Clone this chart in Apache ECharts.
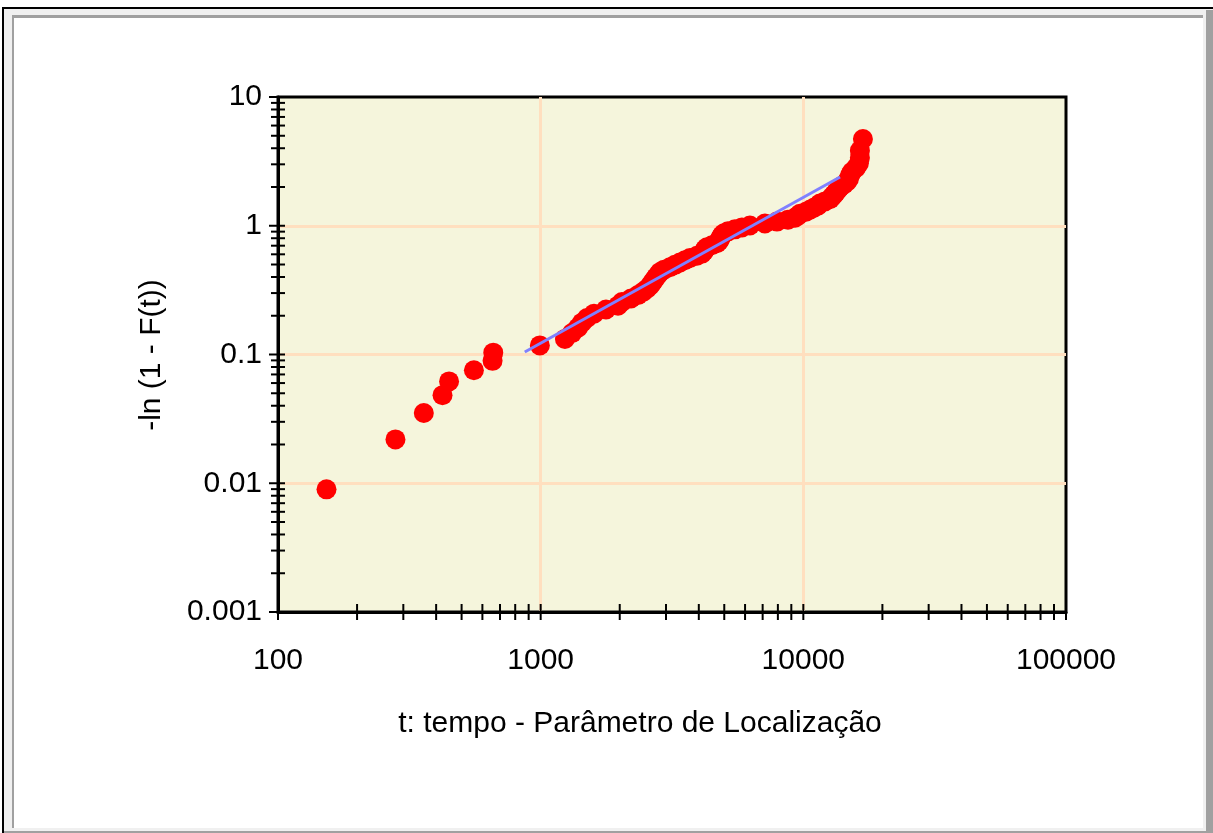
<!DOCTYPE html>
<html>
<head>
<meta charset="utf-8">
<script src="https://cdn.jsdelivr.net/npm/echarts@6/dist/echarts.min.js"></script>
<style>
html,body{margin:0;padding:0;background:#fff;}
#chart{width:1213px;height:833px;}
</style>
</head>
<body>
<div id="chart"></div>
<script>
// ---- data ----
const tValues = [153, 280, 359, 423, 448, 557, 656, 660, 993, 1237,
  1316, 1387, 1436, 1501, 1596, 1773, 1970, 2040, 2207, 2346,
  2452, 2540, 2607, 2653, 2700, 2748, 2797, 2846, 2948, 3107,
  3245, 3391, 3543, 3702, 3936, 4111, 4184, 4221, 4295, 4488,
  4690, 4772, 4814, 4856, 4898, 4985, 5164, 5490, 5839, 6261,
  7141, 7934, 8737, 9290, 9539, 9707, 10231, 10595, 10972, 11365,
  11566, 12083, 12627, 12850, 13077, 13308, 13543, 13783, 14274, 14656,
  14914, 15045, 15311, 15856, 16277, 16420, 16420, 16860];
const hValues = [0.00897, 0.0219, 0.0351, 0.0483, 0.0618, 0.0755, 0.0893, 0.1034, 0.1176, 0.1321,
  0.1467, 0.1616, 0.1767, 0.1920, 0.2076, 0.2235, 0.2395, 0.2559, 0.2725, 0.2894,
  0.3066, 0.3240, 0.3418, 0.3600, 0.3784, 0.3972, 0.4163, 0.4359, 0.4558, 0.4762,
  0.4969, 0.5181, 0.5398, 0.5619, 0.5845, 0.6077, 0.6314, 0.6557, 0.6806, 0.7061,
  0.7322, 0.7591, 0.7867, 0.8151, 0.8443, 0.8744, 0.9054, 0.9375, 0.9706, 1.0049,
  1.0403, 1.0771, 1.1153, 1.1550, 1.1963, 1.2394, 1.2845, 1.3317, 1.3812, 1.4333,
  1.4882, 1.5462, 1.6081, 1.6740, 1.7446, 1.8206, 1.9023, 1.9915, 2.0897, 2.1985,
  2.3204, 2.4597, 2.6214, 2.8143, 3.0533, 3.3684, 3.8309, 4.7186];
const fitT = [870, 13800];
const fitH = [0.1045, 2.39];

const xTickValues = [100, 1000, 10000, 100000];
const xTickLabels = ['100', '1000', '10000', '100000'];
const yTickValues = [0.001, 0.01, 0.1, 1, 10];
const yTickLabels = ['0.001', '0.01', '0.1', '1', '10'];
const minorSteps = [2, 3, 4, 5, 6, 7, 8, 9];

const xTitle = 't: tempo - Parâmetro de Localização';
const yTitle = '-ln (1 - F(t))';

// ---- build ----
const scatterData = tValues.map((t, i) => [t, hValues[i]]);
const fitData = fitT.map((t, i) => [t, fitH[i]]);

const xTicks = [];
xTickValues.forEach((v, k) => {
  xTicks.push([v, 0.001, 1]);
  if (k < xTickValues.length - 1) minorSteps.forEach(m => xTicks.push([v * m, 0.001, 0]));
});
const yTicks = [];
yTickValues.forEach((v, k) => {
  yTicks.push([100, v, 1]);
  if (k < yTickValues.length - 1) minorSteps.forEach(m => yTicks.push([100, +(v * m).toPrecision(3), 0]));
});

function labelOf(values, labels) {
  return function (v) {
    let best = 0, bd = Infinity;
    values.forEach((tv, i) => {
      const d = Math.abs(Math.log10(v) - Math.log10(tv));
      if (d < bd) { bd = d; best = i; }
    });
    return labels[best];
  };
}

const FONT = '"Liberation Sans", Arial, sans-serif';
const FS = 30;
const chart = echarts.init(document.getElementById('chart'), null, {renderer: 'canvas'});

const option = {
  animation: false,
  backgroundColor: '#ffffff',
  graphic: [
    {type: 'rect', z: -10, shape: {x: 2, y: 7, width: 1211, height: 826}, style: {fill: '#000'}},
    {type: 'rect', z: -9, shape: {x: 4, y: 9, width: 1209, height: 824}, style: {fill: '#f0f0f0'}},
    {type: 'rect', z: -8, shape: {x: 1206, y: 10, width: 7, height: 823}, style: {fill: '#a0a0a0'}},
    {type: 'rect', z: -8, shape: {x: 4, y: 831, width: 1209, height: 2}, style: {fill: '#a0a0a0'}},
    {type: 'rect', z: -8, shape: {x: 12, y: 15, width: 1191, height: 813}, style: {fill: '#a0a0a0'}},
    {type: 'rect', z: -7, shape: {x: 14, y: 18, width: 1189, height: 810}, style: {fill: '#ffffff'}},
    {type: 'text', z: 10, x: 640, y: 724,
      style: {text: xTitle, font: FS + 'px ' + FONT, fill: '#000', align: 'center', verticalAlign: 'middle'}},
    {type: 'text', z: 10, x: 152, y: 355, rotation: Math.PI / 2,
      style: {text: yTitle, font: FS + 'px ' + FONT, fill: '#000', align: 'center', verticalAlign: 'middle'}}
  ],
  grid: {
    left: 278, top: 97, right: 147, bottom: 221,
    show: true, backgroundColor: '#f5f5dc', borderColor: '#000', borderWidth: 3
  },
  xAxis: {
    type: 'log', logBase: 10, min: 100, max: 100000,
    axisLine: {show: true, onZero: false, lineStyle: {color: '#000', width: 3}},
    axisTick: {show: false},
    axisLabel: {margin: 34, color: '#000', fontSize: FS, fontFamily: FONT,
      formatter: labelOf(xTickValues, xTickLabels)},
    splitLine: {show: true, showMinLine: false, showMaxLine: false, lineStyle: {color: '#ffdfbf', width: 3}}
  },
  yAxis: {
    type: 'log', logBase: 10, min: 0.001, max: 10,
    axisLine: {show: true, onZero: false, lineStyle: {color: '#000', width: 3}},
    axisTick: {show: false},
    axisLabel: {margin: 16, color: '#000', fontSize: FS, fontFamily: FONT,
      formatter: labelOf(yTickValues, yTickLabels)},
    splitLine: {show: true, showMinLine: false, showMaxLine: false, lineStyle: {color: '#ffdfbf', width: 3}}
  },
  series: [
    {
      type: 'scatter', data: scatterData, symbol: 'circle', symbolSize: 20,
      itemStyle: {color: '#ff0000', opacity: 1}, z: 3, silent: true
    },
    {
      type: 'line', data: fitData, showSymbol: false, symbol: 'none',
      lineStyle: {color: '#8080ff', width: 3}, z: 4, silent: true
    },
    {
      type: 'custom', data: xTicks, z: 6, silent: true, clip: false,
      encode: {x: 0, y: 1},
      renderItem: function (params, api) {
        const p = api.coord([api.value(0), api.value(1)]);
        return {type: 'line', shape: {x1: p[0], y1: p[1] - 8, x2: p[0], y2: p[1] + 8},
          style: {stroke: '#000', lineWidth: 2}};
      }
    },
    {
      type: 'custom', data: yTicks, z: 6, silent: true, clip: false,
      encode: {x: 0, y: 1},
      renderItem: function (params, api) {
        const p = api.coord([api.value(0), api.value(1)]);
        const major = api.value(2) === 1;
        return {type: 'line', shape: {x1: p[0] - (major ? 9 : 7), y1: p[1], x2: p[0] + 7, y2: p[1]},
          style: {stroke: '#000', lineWidth: 2}};
      }
    }
  ]
};
chart.setOption(option);
</script>
</body>
</html>
